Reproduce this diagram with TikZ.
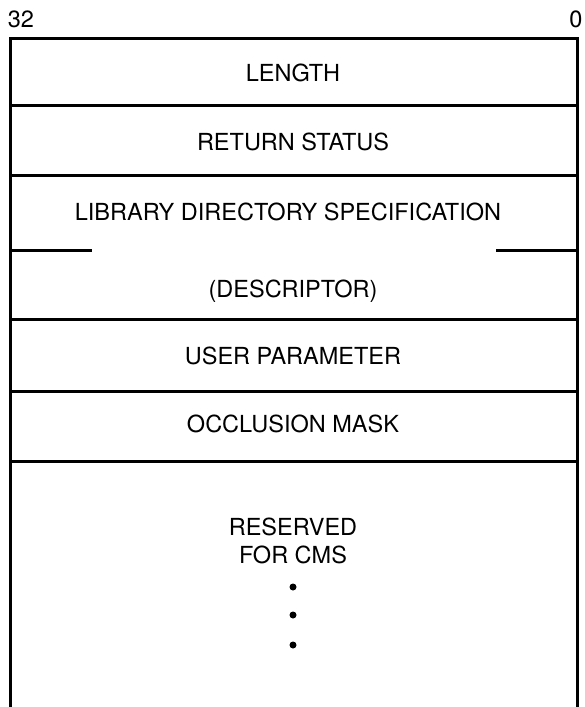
\documentclass[tikz,border=0pt]{standalone}
\usepackage{fontspec}
\setmainfont{TeX Gyre Heros}
\begin{document}
\begin{tikzpicture}[x=1pt,y=-1pt,
  rule/.style={line width=3pt,line cap=rect},
  lbl/.style={inner sep=0pt,anchor=center,font=\fontsize{23.5}{28}\selectfont},
  dotmark/.style={circle,fill=black,inner sep=0pt,minimum size=7pt}]
\useasboundingbox (0,0) rectangle (585,707);
% outer frame (open at bottom)
\draw[rule] (10,707) -- (10,38) -- (577,38) -- (577,707);
% separators
\foreach \yy in {105,175,319,391,461} \draw[rule] (10,\yy) -- (577,\yy);
\draw[rule] (10,250) -- (90,250);
\draw[rule] (497,250) -- (577,250);
% bit numbers
\node[lbl] (b32) at (21,19) {32};
\node[lbl] (b0) at (576,19) {0};
% field labels
\node[lbl] (len) at (293,73) {LENGTH};
\node[lbl] (ret) at (293,142) {RETURN STATUS};
\node[lbl] (lib) at (288,212) {LIBRARY DIRECTORY SPECIFICATION};
\node[lbl] (desc) at (293,291) {(DESCRIPTOR)};
\node[lbl] (user) at (293,356) {USER PARAMETER};
\node[lbl] (occ) at (293,424) {OCCLUSION MASK};
\node[lbl] (res) at (293,527) {RESERVED};
\node[lbl] (cms) at (293,555) {FOR CMS};
\node[dotmark] (d1) at (293,587) {};
\node[dotmark] (d2) at (293,615) {};
\node[dotmark] (d3) at (293,645) {};
\end{tikzpicture}
\end{document}
